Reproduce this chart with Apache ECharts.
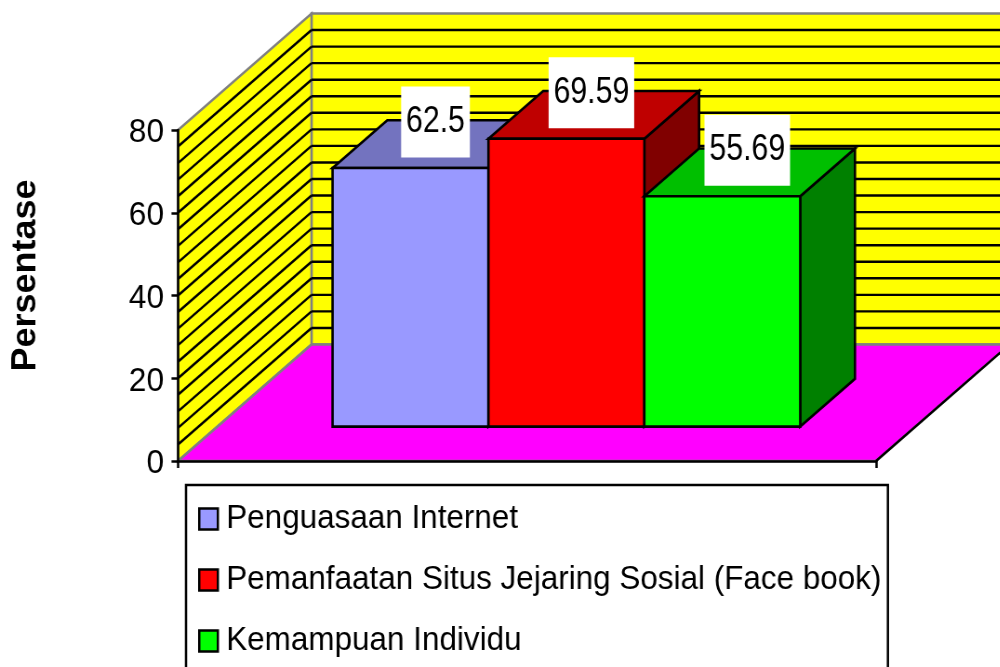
<!DOCTYPE html>
<html>
<head>
<meta charset="utf-8">
<title>Persentase</title>
<script src="https://cdn.jsdelivr.net/npm/echarts@6/dist/echarts.min.js"></script>
<style>
html, body { margin: 0; padding: 0; background: #fff; overflow: hidden; }
/* the original picture is a little squeezed sideways, so the whole chart is too */
#chart { width: 1075px; height: 667px; transform: scaleX(0.93); transform-origin: 0 0; }
</style>
</head>
<body>
<div id="chart"></div>
<script>
var seriesNames = ['Penguasaan Internet', 'Pemanfaatan Situs Jejaring Sosial (Face book)', 'Kemampuan Individu'];
var seriesValues = [62.5, 69.59, 55.69];
var seriesLabels = ['62.5', '69.59', '55.69'];
var frontColors = ['#9999ff', '#ff0000', '#00ff00'];
var topColors = ['#7373bf', '#bf0000', '#00bf00'];
var sideColors = ['#4d4d80', '#800000', '#008000'];
var yTicks = [0, 20, 40, 60, 80];
var wallLines = [4, 8, 12, 16, 20, 24, 28, 32, 36, 40, 44, 48, 52, 56, 60, 64, 68, 72, 76];

var k = 0.93;
var depthX = 133.5 / k;
var depthY = -116.5;
var barStart = 0.295;   // where the bars start on the floor, front to back
var barDepth = 0.41;
var barShare = 0.67;   // part of the floor width taken by the three bars

function poly(points, fill, stroke, width) {
    return {
        type: 'polygon',
        shape: { points: points },
        style: { fill: fill, stroke: stroke, lineWidth: width, lineJoin: 'miter' }
    };
}

function line(x1, y1, x2, y2, color) {
    return {
        type: 'line',
        shape: { x1: x1, y1: y1, x2: x2, y2: y2 },
        style: { stroke: color, lineWidth: 2.4 }
    };
}

function renderWalls(params, api) {
    var p0 = api.coord([0, 0]);
    var p80 = api.coord([0, yTicks[yTicks.length - 1]]);
    var band = api.size([1, 0])[0];
    var l = p0[0] - band / 2;
    var r = p0[0] + band / 2;
    var b = p0[1];
    var t = p80[1];
    return {
        type: 'group',
        children: [
            poly([[l + depthX, t + depthY], [r + depthX, t + depthY], [r + depthX, b + depthY], [l + depthX, b + depthY]], '#ffff00', '#808080', 2.5),
            poly([[l, b], [l + depthX, b + depthY], [l + depthX, t + depthY], [l, t]], '#ffff00', '#808080', 2.5),
            poly([[l, b], [r, b], [r + depthX, b + depthY], [l + depthX, b + depthY]], '#ff00ff', '#808080', 2.5),
            line(r, b, r + depthX, b + depthY, '#000')
        ]
    };
}

function renderWallLine(params, api) {
    var p = api.coord([0, api.value(1)]);
    var band = api.size([1, 0])[0];
    var l = p[0] - band / 2;
    var r = p[0] + band / 2;
    return {
        type: 'group',
        children: [
            line(l, p[1], l + depthX, p[1] + depthY, '#000'),
            line(l + depthX, p[1] + depthY, r + depthX, p[1] + depthY, '#000')
        ]
    };
}

function renderBar(index) {
    return function (params, api) {
        var top = api.coord([0, api.value(1)]);
        var base = api.coord([0, 0]);
        var band = api.size([1, 0])[0];
        var w = band * barShare / seriesNames.length;
        var sx = depthX * barStart;
        var sy = depthY * barStart;
        var dx = depthX * barDepth;
        var dy = depthY * barDepth;
        var l = top[0] - w * seriesNames.length / 2 + w * index + sx;
        var r = l + w;
        var t = top[1] + sy;
        var b = base[1] + sy;
        return {
            type: 'group',
            children: [
                poly([[r, t], [r + dx, t + dy], [r + dx, b + dy], [r, b]], sideColors[index], '#000', 2.6),
                poly([[l, t], [l + dx, t + dy], [r + dx, t + dy], [r, t]], topColors[index], '#000', 2.6),
                poly([[l, t], [r, t], [r, b], [l, b]], frontColors[index], '#000', 2.6),
                {
                    type: 'text',
                    x: (l + r) / 2 + 25 / k,
                    y: t - 46,
                    scaleX: 0.88,
                    style: {
                        text: seriesLabels[index],
                        align: 'center',
                        verticalAlign: 'middle',
                        fontFamily: 'Liberation Sans',
                        fontSize: 37,
                        fill: '#000',
                        backgroundColor: '#fff',
                        padding: [15, 6, 19, 6]
                    }
                }
            ]
        };
    };
}

var series = [
    { name: 'walls', type: 'custom', renderItem: renderWalls, data: [[0, 0]], silent: true, z: 1 },
    {
        name: 'wallLines',
        type: 'custom',
        renderItem: renderWallLine,
        data: wallLines.map(function (v) { return [0, v]; }),
        silent: true,
        z: 2
    }
];

seriesNames.forEach(function (name, i) {
    series.push({
        name: name,
        type: 'custom',
        renderItem: renderBar(i),
        encode: { x: 0, y: 1 },
        itemStyle: { color: frontColors[i] },
        data: [[0, seriesValues[i]]],
        z: 3 + i
    });
});

var myChart = echarts.init(document.getElementById('chart'));
var option = {
    animation: false,
    textStyle: { fontFamily: 'Liberation Sans', color: '#000' },
    grid: { left: 178 / k, top: 130, width: 698 / k, height: 331, containLabel: false, outerBoundsMode: 'none' },
    xAxis: {
        type: 'category',
        data: [''],
        z: 10,
        axisLine: { lineStyle: { color: '#000', width: 2.5 } },
        axisTick: { show: true, length: 7, lineStyle: { color: '#000', width: 2.5 } },
        axisLabel: { show: false },
        splitLine: { show: false }
    },
    yAxis: {
        type: 'value',
        min: yTicks[0],
        max: yTicks[yTicks.length - 1],
        interval: 20,
        z: 10,
        name: 'Persentase',
        nameLocation: 'middle',
        nameRotate: 90,
        nameGap: 145,
        nameMoveOverlap: false,
        nameTextStyle: {
            fontFamily: 'Liberation Sans',
            fontWeight: 'bold',
            fontSize: 36,
            color: '#000',
            padding: [0, 0, 0, 40]
        },
        axisLine: { show: true, lineStyle: { color: '#000', width: 2.5 } },
        axisTick: { show: true, length: 7, lineStyle: { color: '#000', width: 2.5 } },
        axisLabel: { margin: 15, verticalAlign: 'top', lineHeight: 6, fontFamily: 'Liberation Sans', fontSize: 34, color: '#000' },
        splitLine: { show: false }
    },
    legend: {
        data: seriesNames,
        orient: 'vertical',
        left: 186 / k,
        top: 485,
        height: 260,
        borderColor: '#000',
        borderWidth: 2.5,
        backgroundColor: '#fff',
        padding: [17, 7, 15, 13],
        itemGap: 27,
        itemWidth: 20,
        itemHeight: 21,
        icon: 'rect',
        selectedMode: false,
        itemStyle: { borderColor: '#000', borderWidth: 2.5 },
        textStyle: { fontFamily: 'Liberation Sans', fontSize: 33.8, color: '#000', padding: [8, 0, 0, 4] }
    },
    series: series
};
myChart.setOption(option);
</script>
</body>
</html>
